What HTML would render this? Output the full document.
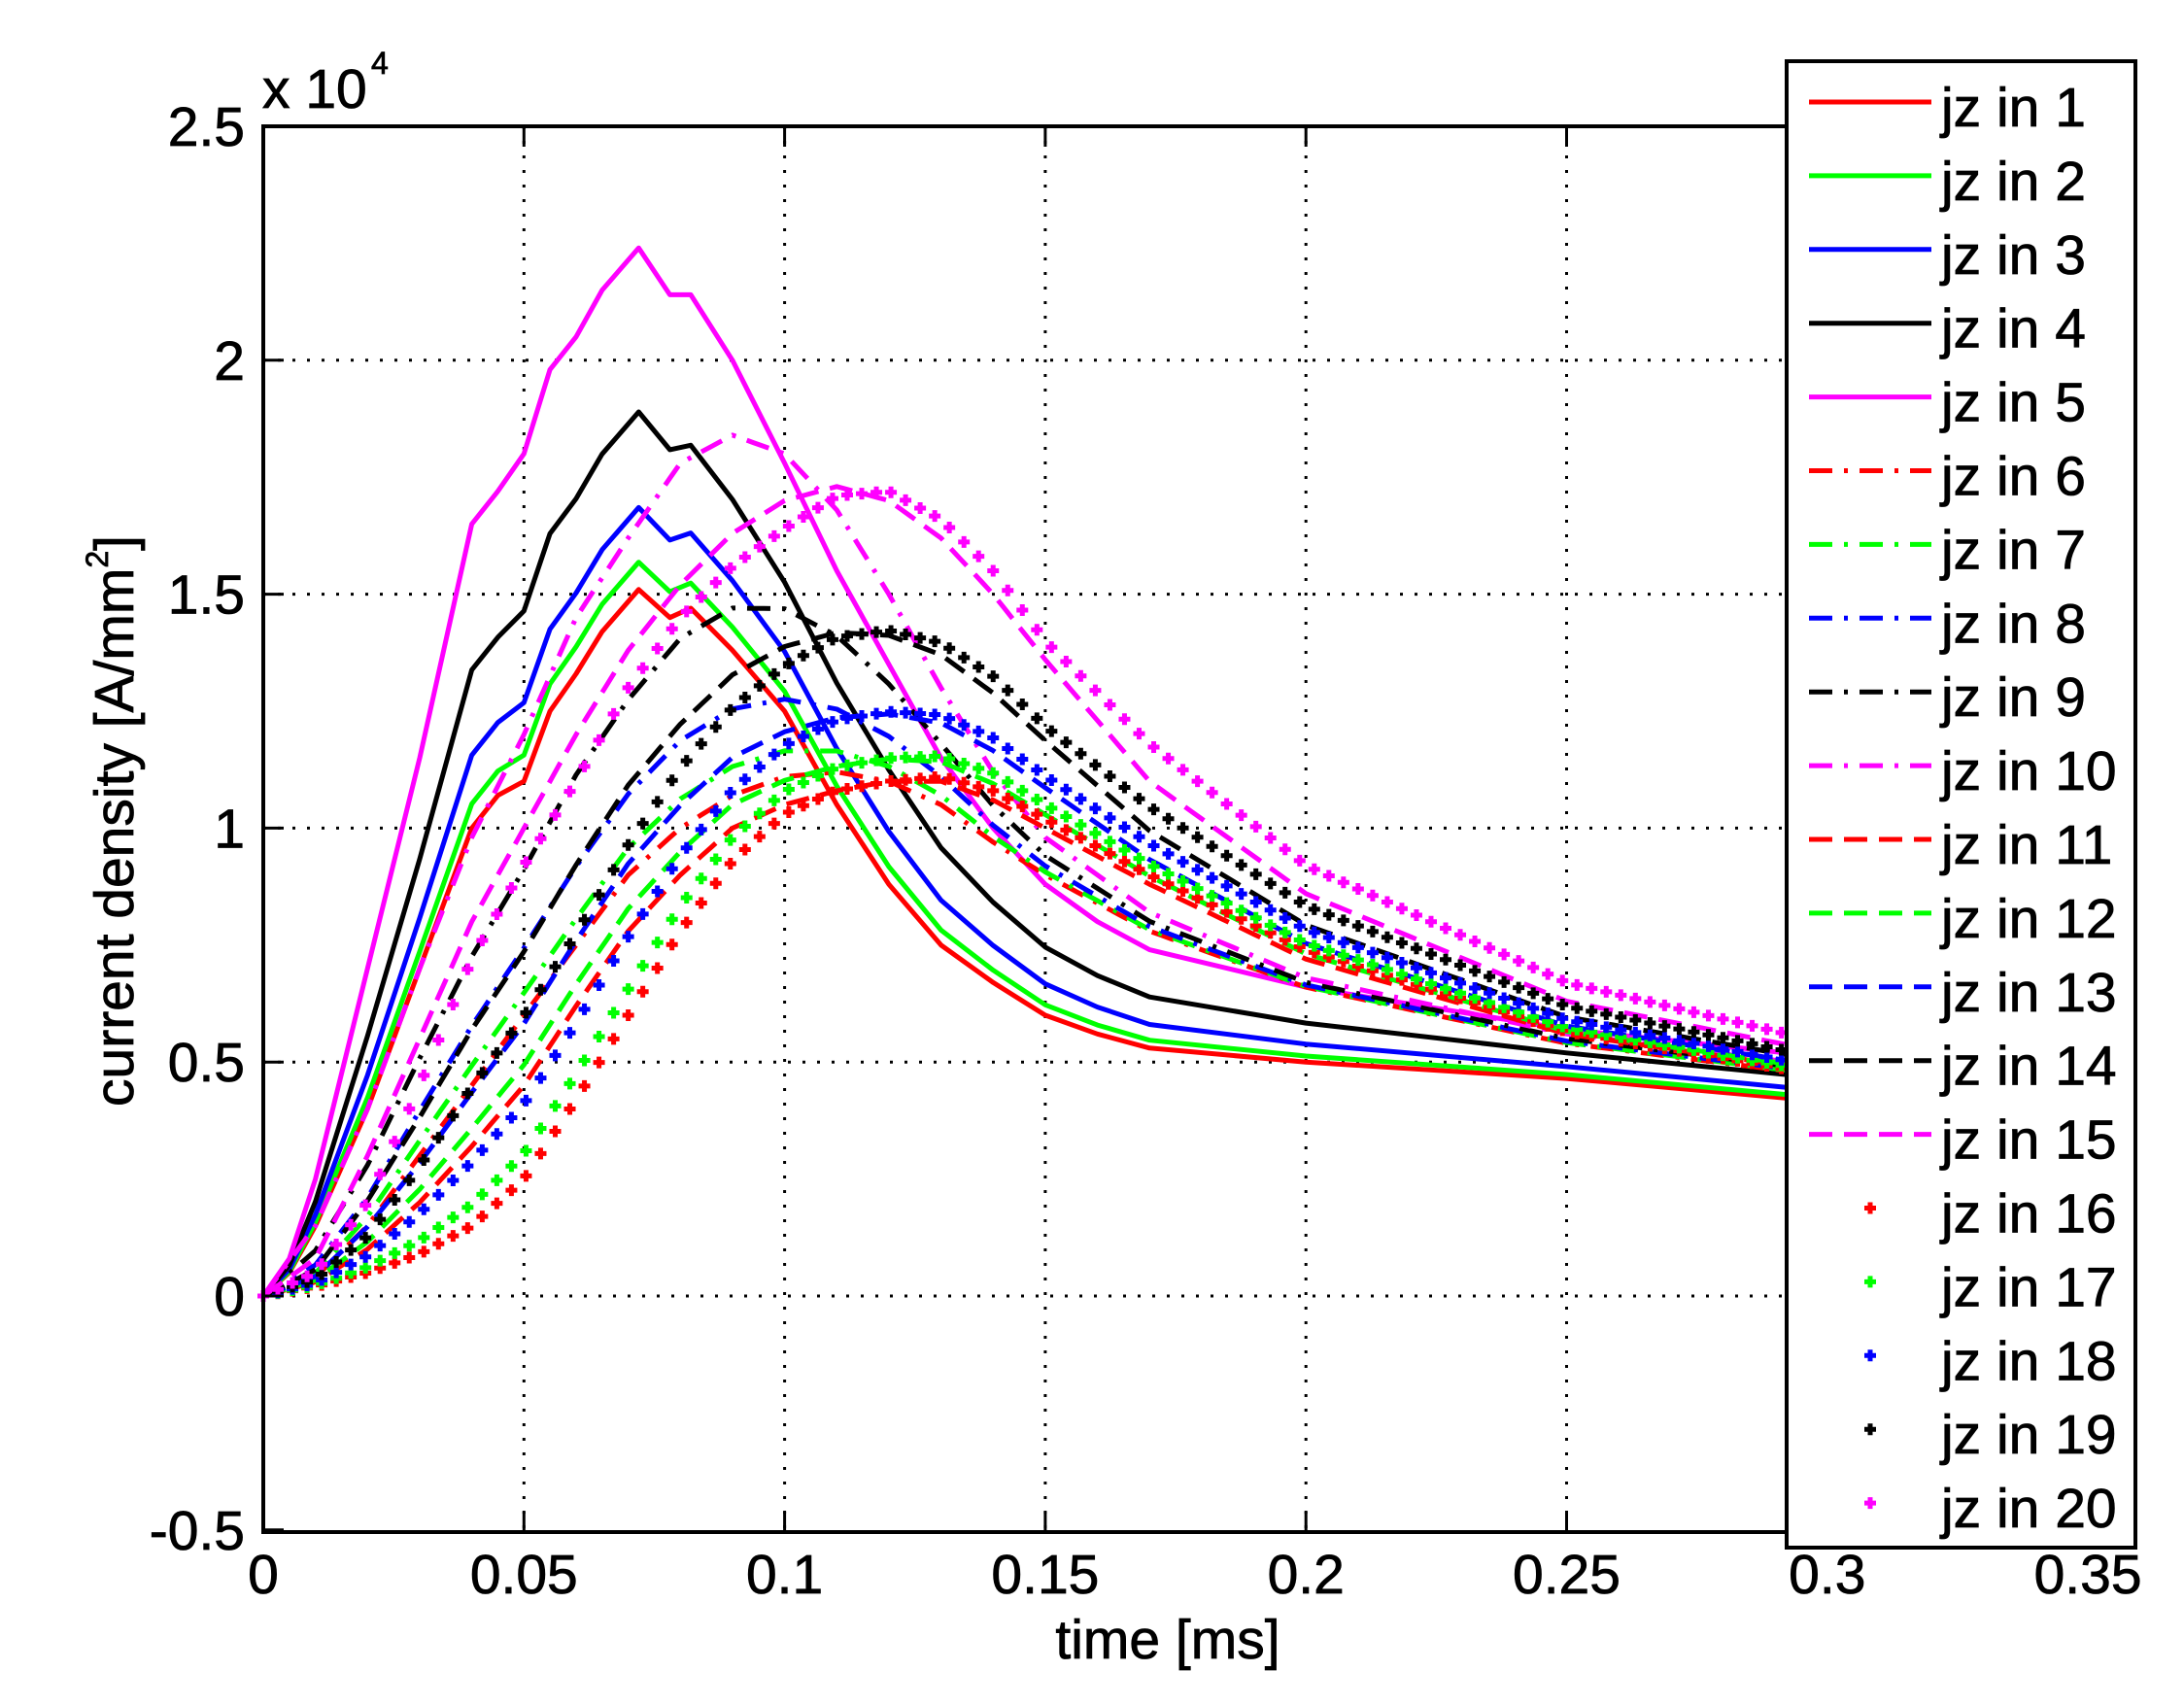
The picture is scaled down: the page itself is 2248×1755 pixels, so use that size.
<!DOCTYPE html>
<html><head><meta charset="utf-8"><style>
html,body{margin:0;padding:0;background:#fff;}
svg{display:block;font-family:"Liberation Sans",Arial,sans-serif;}
</style></head><body>
<svg id="s" width="2248" height="1755" viewBox="0 0 2248 1755" xmlns="http://www.w3.org/2000/svg">
<rect width="2248" height="1755" fill="#fff"/>
<g id="grid" stroke="#000" stroke-width="3" stroke-dasharray="3 12"></g>
<g id="curves" fill="none" stroke-linejoin="round"></g>
<g id="axes"></g>
<g id="labels" font-size="57" fill="#000" stroke="#000" stroke-width="0.8"></g>
<g stroke="#000" stroke-width="0.8">
<text x="270" y="111" font-size="57">x 10</text>
<text x="382" y="76" font-size="32">4</text>
<text x="1202" y="1707" font-size="57" text-anchor="middle">time [ms]</text>
<text transform="translate(137,845) rotate(-90)" font-size="57" text-anchor="middle">current density [A/mm<tspan font-size="32" dy="-26">2</tspan><tspan dy="26">]</tspan></text>
</g>
<g id="legend"></g>
</svg>
<script>
var NS="http://www.w3.org/2000/svg";
function el(p,t,a){var e=document.createElementNS(NS,t);for(var k in a)e.setAttribute(k,a[k]);p.appendChild(e);return e;}
var X0=271,DX=268.3/0.05,Y0=1334,DY=481.6;
function X(t){return X0+t*DX;} function Y(v){return Y0-v*DY;}
var L=271,R=2149,T=130,B=1577;
var grid=document.getElementById('grid');
for(var i=1;i<7;i++){var x=X(i*0.05);el(grid,'line',{x1:x,y1:T,x2:x,y2:B});}
for(var v=-0.5;v<=2.51;v+=0.5){if(Math.abs(v+0.5)<1e-6||Math.abs(v-2.5)<1e-6)continue;var y=Y(v);el(grid,'line',{x1:L,y1:y,x2:R,y2:y});}
var ax=document.getElementById('axes');
el(ax,'rect',{x:L,y:T,width:R-L,height:B-T,fill:'none',stroke:'#000','stroke-width':4});
for(var i=0;i<=7;i++){var x=X(i*0.05);el(ax,'line',{x1:x,y1:B,x2:x,y2:B-21,stroke:'#000','stroke-width':3});el(ax,'line',{x1:x,y1:T,x2:x,y2:T+21,stroke:'#000','stroke-width':3});}
for(var k=0;k<=6;k++){var y=Y(-0.5+k*0.5);el(ax,'line',{x1:L,y1:y,x2:L+21,y2:y,stroke:'#000','stroke-width':3});el(ax,'line',{x1:R,y1:y,x2:R-21,y2:y,stroke:'#000','stroke-width':3});}
var lab=document.getElementById('labels');
var xl=['0','0.05','0.1','0.15','0.2','0.25','0.3','0.35'];
for(var i=0;i<8;i++){var t=el(lab,'text',{x:X(i*0.05),y:1640,'text-anchor':'middle'});t.textContent=xl[i];}
var yl=['-0.5','0','0.5','1','1.5','2','2.5'];
for(var k=0;k<7;k++){var t=el(lab,'text',{x:252,y:Y(-0.5+k*0.5)+20,'text-anchor':'end'});t.textContent=yl[k];}

var cols=['#ff0000','#00ff00','#0000ff','#000000','#ff00ff'];
var W=[0,0.08,0.24,0.52,1];
var groups=[
 {t:[0,.005,.01,.02,.03,.04,.045,.05,.055,.06,.065,.072,.078,.082,.09,.1,.11,.12,.13,.14,.15,.16,.17,.2,.25,.3],
  r:[0,.05,.15,.4,.7,1.0,1.07,1.1,1.25,1.33,1.42,1.51,1.45,1.47,1.38,1.25,1.05,.88,.75,.67,.6,.56,.53,.5,.465,.415],
  m:[0,.08,.25,.7,1.15,1.65,1.72,1.8,1.98,2.05,2.15,2.24,2.14,2.14,2.0,1.78,1.55,1.35,1.15,1.0,.88,.8,.74,.66,.57,.51],style:'solid'},
 {t:[0,.01,.02,.03,.04,.05,.06,.07,.08,.09,.1,.11,.12,.13,.14,.15,.17,.2,.25,.3],
  r:[0,.04,.15,.3,.45,.6,.75,.9,1.0,1.07,1.11,1.12,1.1,1.05,.97,.9,.78,.66,.54,.47],
  m:[0,.15,.4,.7,.98,1.2,1.45,1.62,1.78,1.84,1.8,1.68,1.5,1.3,1.12,.98,.82,.68,.56,.49],style:'dashdot'},
 {t:[0,.01,.02,.03,.04,.05,.06,.07,.08,.09,.1,.11,.12,.13,.14,.15,.17,.2,.25,.3],
  r:[0,.03,.1,.2,.32,.45,.62,.78,.9,1.0,1.05,1.08,1.1,1.1,1.06,1.0,.88,.72,.56,.48],
  m:[0,.08,.3,.55,.8,1.0,1.2,1.38,1.52,1.63,1.7,1.73,1.7,1.62,1.5,1.36,1.1,.86,.63,.52],style:'dash'},
 {t:[0,.01,.02,.03,.04,.05,.06,.07,.08,.09,.1,.11,.12,.13,.14,.15,.17,.2,.25,.3],
  r:[0,.02,.05,.09,.15,.25,.42,.6,.78,.93,1.03,1.08,1.1,1.11,1.08,1.02,.9,.74,.565,.47],
  m:[0,.05,.2,.45,.72,.92,1.1,1.3,1.45,1.56,1.64,1.71,1.72,1.66,1.55,1.4,1.18,.92,.67,.54],style:'dot'}
];
function interp(ts,vs,t){for(var i=1;i<ts.length;i++){if(t<=ts[i]){var f=(t-ts[i-1])/(ts[i]-ts[i-1]);return vs[i-1]+f*(vs[i]-vs[i-1]);}}return vs[vs.length-1];}
var cg=document.getElementById('curves');
groups.forEach(function(g){
 for(var k=0;k<5;k++){
  var vs=g.r.map(function(r,i){return r+W[k]*(g.m[i]-r);});
  if(g.style==='dot'){
   for(var t=0;t<=0.3;t+=0.0028){var x=X(t),y=Y(interp(g.t,vs,t));
    el(cg,'path',{d:'M'+(x-6)+' '+y+'h12M'+x+' '+(y-6)+'v12',stroke:cols[k],'stroke-width':5});}
  } else {
   var d='';
   if(g.style==='solid'){for(var i=0;i<g.t.length;i++)d+=(i?'L':'M')+X(g.t[i]).toFixed(1)+' '+Y(vs[i]).toFixed(1);}
   else{for(var t=0;t<=0.3001;t+=0.002)d+=(t?'L':'M')+X(t).toFixed(1)+' '+Y(interp(g.t,vs,t)).toFixed(1);}
   var a={d:d,stroke:cols[k],'stroke-width':5};
   if(g.style==='dashdot')a['stroke-dasharray']='24 12 4 12';
   if(g.style==='dash')a['stroke-dasharray']='24 12';
   el(cg,'path',a);
  }
 }
});
var lg=document.getElementById('legend');
el(lg,'rect',{x:1839,y:63,width:359,height:1530,fill:'#fff',stroke:'#000','stroke-width':4});
var st=['solid','dashdot','dash','dot'];
for(var i=0;i<20;i++){
 var y=105+i*75.9, c=cols[i%5], s=st[Math.floor(i/5)];
 if(s==='dot'){el(lg,'path',{d:'M1919 '+y+'h12M1925 '+(y-6)+'v12',stroke:c,'stroke-width':5});}
 else{var a={x1:1862,y1:y,x2:1988,y2:y,stroke:c,'stroke-width':5};
  if(s==='dashdot')a['stroke-dasharray']='24 12 4 12';
  if(s==='dash')a['stroke-dasharray']='24 12';
  el(lg,'line',a);}
 var t=el(lg,'text',{x:1998,y:y+25,'font-size':57,stroke:'#000','stroke-width':0.8});t.textContent='jz in '+(i+1);
}
</script>
</body></html>
